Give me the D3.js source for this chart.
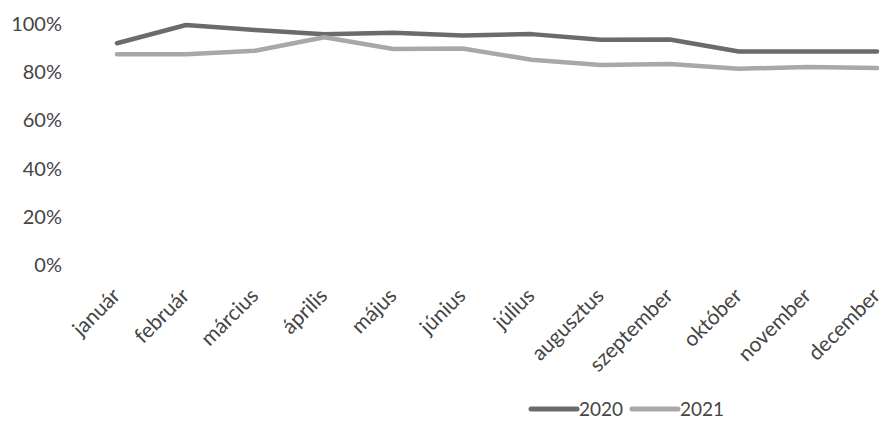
<!DOCTYPE html>
<html><head><meta charset="utf-8">
<script src="https://cdn.jsdelivr.net/npm/d3@7"></script>
<style>body{margin:0;background:#fff}svg{display:block}</style>
</head><body>
<script>
const months = ["január","február","március","április","május","június","július","augusztus","szeptember","október","november","december"];
const series2020 = [92, 99.6, 97.5, 95.7, 96.4, 95.2, 95.8, 93.5, 93.6, 88.6, 88.6, 88.6];
const series2021 = [87.4, 87.4, 88.9, 94.5, 89.6, 89.8, 85.2, 83.0, 83.4, 81.4, 82.2, 81.7];
const yTicks = [0, 20, 40, 60, 80, 100];
const seriesNames = ["2020", "2021"];

const W = 884, H = 426;
const svg = d3.select("body").append("svg").attr("width", W).attr("height", H);
const font = "Lato, 'Open Sans', sans-serif";
const textColor = "#454545";

const x = d3.scalePoint().domain(months).range([117, 877]);
const y = d3.scaleLinear().domain([0, 100]).range([265, 24]);

// y axis labels
const yAxis = d3.axisLeft(y).tickValues(yTicks).tickFormat(d => d + "%").tickSize(0).tickPadding(0);
const gy = svg.append("g").attr("transform", "translate(62,0)").call(yAxis);
gy.select(".domain").remove();
gy.selectAll("text").attr("font-family", font).attr("font-size", 20).attr("fill", textColor);

// x axis labels
const xAxis = d3.axisBottom(x).tickSize(0).tickPadding(0);
const gx = svg.append("g").call(xAxis);
gx.select(".domain").remove();
gx.selectAll(".tick text")
  .attr("font-family", font).attr("font-size", 21).attr("fill", textColor)
  .attr("text-anchor", "end")
  .attr("dy", null).attr("y", 0).attr("x", 0)
  .attr("transform", "translate(4,297) rotate(-45)");

const line = d3.line().x((d, i) => x(months[i])).y(d => y(d));
const colors = ["#6b6b6b", "#a8a8a8"];
[series2020, series2021].forEach((s, k) => {
  svg.append("path").datum(s).attr("d", line)
    .attr("fill", "none").attr("stroke", colors[k]).attr("stroke-width", 4.5)
    .attr("stroke-linecap", "round").attr("stroke-linejoin", "round");
});

// legend
const legend = svg.append("g").attr("transform", "translate(0,409)");
const lx = [531, 632];
seriesNames.forEach((n, k) => {
  legend.append("line").attr("x1", lx[k]).attr("x2", lx[k] + 46).attr("y1", 0).attr("y2", 0)
    .attr("stroke", colors[k]).attr("stroke-width", 5).attr("stroke-linecap", "round");
  legend.append("text").attr("x", lx[k] + 48).attr("y", 7).text(n)
    .attr("font-family", font).attr("font-size", 19).attr("fill", textColor);
});
</script>
</body></html>
